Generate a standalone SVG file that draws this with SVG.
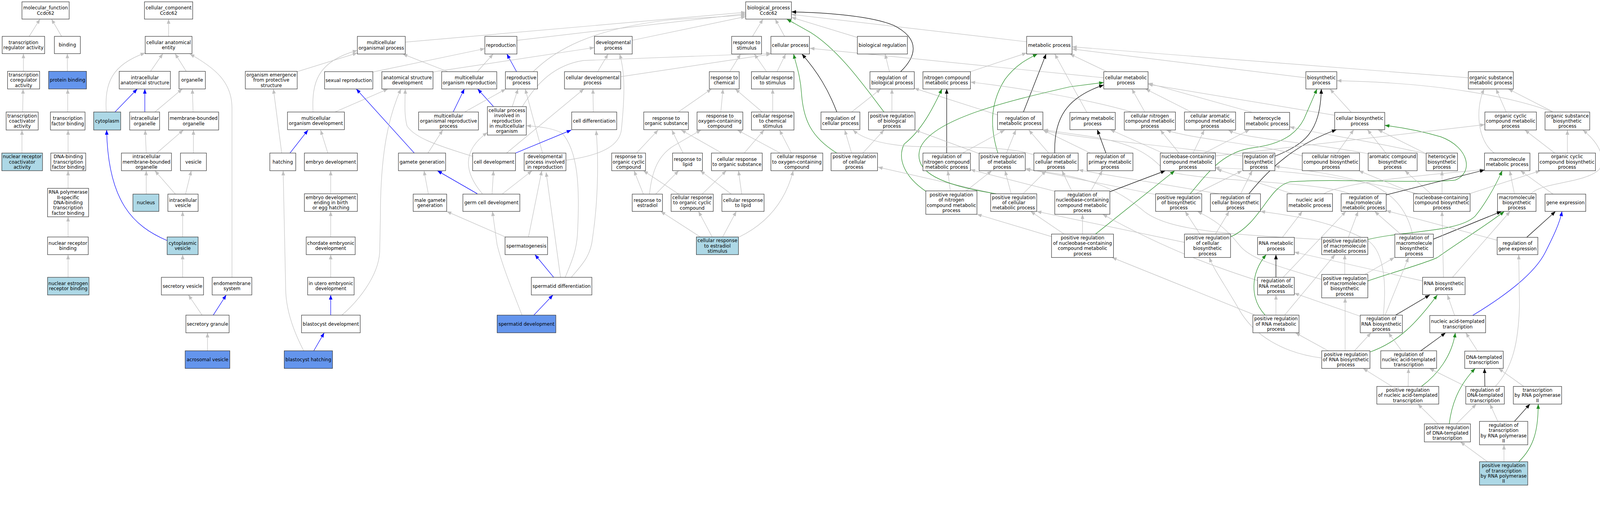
<svg xmlns="http://www.w3.org/2000/svg" width="4456" height="1352" viewBox="0 0 4456 1352">
<style>
rect{fill:#fff;stroke:#333;stroke-width:1.3}
rect.lb{fill:#add8e6}
rect.cb{fill:#6495ed}
text{font-family:"DejaVu Sans","Liberation Sans",sans-serif;font-size:13px;text-anchor:middle;fill:#000}
.e path{fill:none;stroke-width:1.3}
.e .g{stroke:#c0c0c0;marker-end:url(#mg)}
.e .b{stroke:#0000ff;marker-end:url(#mb)}
.e .k{stroke:#000;marker-end:url(#mk)}
.e .n{stroke:#228b22;marker-end:url(#mn)}
</style>
<defs>
<marker id="mg" viewBox="0 0 13 10" refX="13" refY="5" markerWidth="13" markerHeight="10" markerUnits="userSpaceOnUse" orient="auto"><path d="M0 0L13 5L0 10z" fill="#c0c0c0"/></marker>
<marker id="mb" viewBox="0 0 13 10" refX="13" refY="5" markerWidth="13" markerHeight="10" markerUnits="userSpaceOnUse" orient="auto"><path d="M0 0L13 5L0 10z" fill="#0000ff"/></marker>
<marker id="mk" viewBox="0 0 13 10" refX="13" refY="5" markerWidth="13" markerHeight="10" markerUnits="userSpaceOnUse" orient="auto"><path d="M0 0L13 5L0 10z" fill="#000"/></marker>
<marker id="mn" viewBox="0 0 13 10" refX="13" refY="5" markerWidth="13" markerHeight="10" markerUnits="userSpaceOnUse" orient="auto"><path d="M0 0L13 5L0 10z" fill="#228b22"/></marker>
</defs>
<rect x="0" y="0" width="4456" height="1352" style="fill:#fff;stroke:none"/>
<g id="graph" transform="scale(0.9222)">
<g id="edges" class="e">
<path class="g" d="M81 101L111 53"/>
<path class="g" d="M171 101L143 53"/>
<path class="g" d="M468 101L468 53"/>
<path class="g" d="M65 198L65 149"/>
<path class="g" d="M187 198L187 149"/>
<path class="g" d="M418 198L452 149"/>
<path class="g" d="M517 198L486 149"/>
<path class="g" d="M295 311C290 230 310 180 403 147"/>
<path class="b" d="M319 311L381 247"/>
<path class="b" d="M402 311L402 247"/>
<path class="g" d="M430 311L506 247"/>
<path class="g" d="M536 311L534 247"/>
<path class="g" d="M63 311L64 247"/>
<path class="g" d="M188 311L188 247"/>
<path class="g" d="M61 425L61 361"/>
<path class="g" d="M189 425L189 361"/>
<path class="g" d="M406 425L403 361"/>
<path class="g" d="M435 425L509 361"/>
<path class="g" d="M537 425L537 361"/>
<path class="g" d="M189 523L189 474"/>
<path class="g" d="M406 539L406 474"/>
<path class="g" d="M487 539L430 474"/>
<path class="g" d="M515 539L531 474"/>
<path class="g" d="M189 658L189 602"/>
<path class="g" d="M507 658L507 587"/>
<path class="b" d="M464 668C370 628 300 560 296 361"/>
<path class="g" d="M644 770L644 300C644 230 600 190 527 150"/>
<path class="g" d="M189 770L189 707"/>
<path class="g" d="M507 770L507 707"/>
<path class="g" d="M561 875L523 819"/>
<path class="b" d="M592 875L628 819"/>
<path class="g" d="M576 974L576 924"/>
<path class="g" d="M1125 117L2070 34"/>
<path class="g" d="M1435 112L2070 38"/>
<path class="g" d="M1755 112L2070 46"/>
<path class="g" d="M1480 199C1540 140 1640 80 1860 55L2070 42"/>
<path class="g" d="M1035 200L1346 135"/>
<path class="g" d="M825 199L992 147"/>
<path class="g" d="M869 311C865 230 880 170 992 140"/>
<path class="g" d="M1243 199L1118 150"/>
<path class="g" d="M1325 199L1369 150"/>
<path class="b" d="M1434 199L1407 150"/>
<path class="g" d="M1201 200L1650 132"/>
<path class="g" d="M930 311L1077 247"/>
<path class="b" d="M1150 425L989 247"/>
<path class="g" d="M949 875C990 840 1050 770 1054 700L1056 600C1056 420 1080 320 1113 247"/>
<path class="g" d="M1312 434C1200 400 1150 380 1130 350C1122 320 1124 290 1125 247"/>
<path class="b" d="M1258 311L1289 247"/>
<path class="b" d="M1370 296L1326 247"/>
<path class="g" d="M1290 311L1404 247"/>
<path class="g" d="M1422 296L1438 247"/>
<path class="g" d="M1506 425L1458 247"/>
<path class="g" d="M1569 770C1585 730 1600 700 1603 650C1610 520 1605 420 1560 369C1530 355 1500 352 1461 349"/>
<path class="g" d="M1586 770C1610 740 1640 715 1645 660C1660 560 1662 450 1655 362"/>
<path class="g" d="M1556 770L1516 478"/>
<path class="g" d="M1450 296C1490 230 1540 180 1620 168L2140 148"/>
<path class="g" d="M1723 213L2140 150"/>
<path class="g" d="M1659 199L1688 150"/>
<path class="g" d="M1571 445C1680 430 1720 400 1725 360C1735 260 1735 200 1720 150"/>
<path class="g" d="M1647 311L1646 247"/>
<path class="g" d="M1406 425L1621 247"/>
<path class="b" d="M1431 425L1586 361"/>
<path class="g" d="M1339 538C1290 480 1280 420 1353 368"/>
<path class="g" d="M1467 658L1504 474"/>
<path class="g" d="M1395 538L1477 474"/>
<path class="g" d="M1189 538L1177 474"/>
<path class="b" d="M1325 538L1214 474"/>
<path class="g" d="M1366 538L1370 474"/>
<path class="g" d="M1188 425L1229 361"/>
<path class="g" d="M1403 658L1240 587"/>
<path class="g" d="M1449 875C1420 800 1395 740 1380 680L1367 587"/>
<path class="b" d="M1537 770L1485 707"/>
<path class="b" d="M1482 875L1535 819"/>
<path class="g" d="M843 974C815 920 793 860 793 800L786 474"/>
<path class="b" d="M805 425L855 361"/>
<path class="g" d="M782 425L759 247"/>
<path class="g" d="M910 425L890 361"/>
<path class="g" d="M918 538L918 474"/>
<path class="g" d="M918 658L918 587"/>
<path class="g" d="M918 770L918 707"/>
<path class="b" d="M918 875L918 819"/>
<path class="b" d="M871 974L900 924"/>
<path class="g" d="M2089 101L2118 53"/>
<path class="g" d="M2178 101L2152 53"/>
<path class="n" d="M2454 311C2400 240 2330 140 2250 90L2184 53"/>
<path class="k" d="M2323 311C2300 250 2270 200 2226 150"/>
<path class="n" d="M2323 425C2250 380 2230 330 2225 260C2222 210 2210 180 2203 150"/>
<path class="g" d="M2026 199L2056 150"/>
<path class="g" d="M2128 199L2094 150"/>
<path class="g" d="M2157 199L2181 150"/>
<path class="g" d="M1883 311L1975 247"/>
<path class="g" d="M2001 311L2007 247"/>
<path class="g" d="M2116 311L2041 247"/>
<path class="g" d="M2145 311L2145 247"/>
<path class="g" d="M1767 425L1827 361"/>
<path class="g" d="M1896 425L1865 361"/>
<path class="g" d="M2004 425L1891 361"/>
<path class="g" d="M2066 425L2121 361"/>
<path class="g" d="M2166 425L2047 361"/>
<path class="g" d="M2197 425L2164 361"/>
<path class="g" d="M1786 539L1760 474"/>
<path class="g" d="M1820 539L1884 474"/>
<path class="g" d="M1803 539C1810 470 1830 430 1870 405L1946 361"/>
<path class="g" d="M1884 539L1786 474"/>
<path class="g" d="M1949 539L2016 474"/>
<path class="g" d="M2030 539L1944 474"/>
<path class="g" d="M2059 539L2050 474"/>
<path class="g" d="M1944 658L1834 587"/>
<path class="g" d="M1977 658L1939 587"/>
<path class="g" d="M2006 658L2044 587"/>
<path class="g" d="M2052 658C2130 620 2180 560 2202 474"/>
<path class="g" d="M2380 104L2197 48"/>
<path class="g" d="M2850 116L2197 40"/>
<path class="k" d="M2500 199C2540 160 2560 110 2480 70C2420 45 2300 35 2197 33"/>
<path class="g" d="M3064 216L2248 134"/>
<path class="g" d="M2469 199L2457 150"/>
<path class="g" d="M2364 311L2445 247"/>
<path class="g" d="M2476 311L2476 247"/>
<path class="g" d="M2769 319L2538 245"/>
<path class="g" d="M2694 199L2850 147"/>
<path class="n" d="M2770 425C2750 360 2745 290 2790 220C2820 180 2850 165 2880 150"/>
<path class="k" d="M2841 311L2904 150"/>
<path class="g" d="M3017 312L2928 150"/>
<path class="g" d="M3073 199L2970 150"/>
<path class="g" d="M3625 216L2976 136"/>
<path class="g" d="M4076 216L2976 130"/>
<path class="k" d="M2628 425L2628 247"/>
<path class="n" d="M2570 531C2510 490 2490 440 2510 400C2560 360 2590 300 2615 247"/>
<path class="g" d="M3142 311C3000 270 2800 240 2694 228"/>
<path class="g" d="M2364 425L2345 361"/>
<path class="g" d="M2870 430C2800 405 2650 408 2550 407C2470 405 2400 390 2368 361"/>
<path class="g" d="M2395 425L2454 361"/>
<path class="g" d="M2725 429L2540 361"/>
<path class="g" d="M2672 425L2789 361"/>
<path class="g" d="M2794 425L2820 361"/>
<path class="g" d="M2911 425L2856 361"/>
<path class="g" d="M3027 425L2895 361"/>
<path class="g" d="M3450 433C3200 400 3000 385 2897 362"/>
<path class="g" d="M3746 538C3650 500 3300 505 3230 470C3190 430 3150 395 3000 375L2896 360"/>
<path class="g" d="M2763 538L2437 464"/>
<path class="g" d="M2638 530L2631 474"/>
<path class="g" d="M2682 530L2753 474"/>
<path class="g" d="M2807 538L2790 474"/>
<path class="g" d="M2840 538L2904 474"/>
<path class="g" d="M2928 531L2694 471"/>
<path class="g" d="M3669 665C3400 650 3250 640 3180 590C3120 540 3050 490 2847 471"/>
<path class="g" d="M2975 530L2948 474"/>
<path class="g" d="M3383 538L2994 472"/>
<path class="g" d="M3208 540L2847 468"/>
<path class="g" d="M2919 657L2712 595"/>
<path class="g" d="M2954 650L2861 587"/>
<path class="g" d="M3288 673L2878 587"/>
<path class="n" d="M2765 538C2620 515 2530 480 2555 410C2590 330 2800 280 2970 241L3064 229"/>
<path class="k" d="M2928 425C2925 330 2960 270 3064 236"/>
<path class="g" d="M3178 311L3142 247"/>
<path class="g" d="M3307 311L3180 247"/>
<path class="g" d="M3477 312L3187 231"/>
<path class="g" d="M3705 320L3187 234"/>
<path class="n" d="M3304 538C3360 470 3400 420 3480 410C3560 400 3600 370 3620 330L3656 247"/>
<path class="k" d="M3539 434C3620 400 3665 370 3668 247"/>
<path class="g" d="M3751 312L3692 247"/>
<path class="g" d="M4310 311C4200 270 4000 230 3711 224"/>
<path class="k" d="M3070 425L3046 360"/>
<path class="g" d="M3273 425L3221 361"/>
<path class="g" d="M3312 425L3343 361"/>
<path class="g" d="M3343 425L3469 360"/>
<path class="g" d="M3228 425L3082 360"/>
<path class="g" d="M3615 433C3500 400 3300 385 3238 361"/>
<path class="g" d="M3799 427C3600 390 3450 385 3410 361"/>
<path class="g" d="M3959 427C3800 390 3650 370 3580 352"/>
<path class="k" d="M3082 532L3235 474"/>
<path class="n" d="M3041 650L3261 474"/>
<path class="g" d="M3027 532L3060 474"/>
<path class="g" d="M3005 650L3005 595"/>
<path class="g" d="M3491 779C3400 750 3250 700 3061 595"/>
<path class="g" d="M3590 539L3378 470"/>
<path class="g" d="M3936 538C3700 480 3500 470 3372 466"/>
<path class="g" d="M3319 538L3448 474"/>
<path class="g" d="M3444 538L3476 474"/>
<path class="g" d="M3921 650C3910 600 3880 540 3800 510C3700 480 3600 470 3539 462"/>
<path class="k" d="M3467 538C3530 460 3600 400 3710 360"/>
<path class="g" d="M3331 650L3290 587"/>
<path class="g" d="M3374 650L3412 587"/>
<path class="g" d="M3669 776C3550 740 3470 720 3440 680C3400 630 3370 610 3324 587"/>
<path class="g" d="M3840 875C3850 780 3840 700 3800 670C3700 615 3600 600 3499 587"/>
<path class="g" d="M3560 659L3615 587"/>
<path class="g" d="M3675 538C3720 510 3900 490 4121 471"/>
<path class="n" d="M3416 658C3500 620 3520 520 3580 505C3700 495 3950 510 4040 500C4090 480 4080 410 4000 380C3950 365 3900 355 3844 348"/>
<path class="g" d="M3712 425L3758 360"/>
<path class="g" d="M3847 425L3796 360"/>
<path class="g" d="M3959 427L3825 360"/>
<path class="g" d="M4148 425C4100 390 4095 300 4120 247"/>
<path class="g" d="M4181 311L4153 247"/>
<path class="g" d="M4310 310L4187 247"/>
<path class="g" d="M3374 433L4122 346"/>
<path class="g" d="M4316 425L4233 361"/>
<path class="g" d="M4351 425L4351 361"/>
<path class="g" d="M4250 538C4280 505 4400 510 4440 470C4460 430 4430 390 4394 361"/>
<path class="g" d="M4079 538L4276 474"/>
<path class="g" d="M4003 538L4003 474"/>
<path class="g" d="M3972 538L3900 474"/>
<path class="g" d="M3927 538L3772 474"/>
<path class="k" d="M3848 541L4121 472"/>
<path class="n" d="M3797 665C3900 640 4050 645 4095 600C4120 570 4150 520 4170 474"/>
<path class="g" d="M4204 538L4191 474"/>
<path class="g" d="M4311 539L4221 474"/>
<path class="k" d="M3979 664L4168 587"/>
<path class="n" d="M3797 780C3870 755 3960 730 3990 715C4060 665 4120 630 4176 587"/>
<path class="g" d="M4032 770L4192 587"/>
<path class="k" d="M4238 659L4318 587"/>
<path class="b" d="M4088 876C4180 820 4260 760 4290 700C4310 660 4330 620 4336 587"/>
<path class="g" d="M3743 659L3770 587"/>
<path class="g" d="M3888 650L3816 587"/>
<path class="g" d="M4156 667L3848 585"/>
<path class="g" d="M3562 770L3736 587"/>
<path class="g" d="M4151 1073C4200 1020 4215 950 4218 850L4216 707"/>
<path class="g" d="M3566 875L3706 707"/>
<path class="g" d="M3484 875L3087 715"/>
<path class="g" d="M3669 994C3560 980 3480 930 3440 860C3400 790 3370 750 3357 715"/>
<path class="g" d="M3687 974L3596 924"/>
<path class="k" d="M3542 770L3542 707"/>
<path class="n" d="M3512 875C3470 830 3470 760 3515 707"/>
<path class="g" d="M3542 875L3542 819"/>
<path class="g" d="M3949 780L3593 700"/>
<path class="g" d="M3776 878L3593 814"/>
<path class="g" d="M3733 762L3733 707"/>
<path class="g" d="M3845 875L3910 715"/>
<path class="g" d="M3789 762L3871 715"/>
<path class="k" d="M3874 875L3969 819"/>
<path class="n" d="M3804 977C3880 950 3930 900 3990 819"/>
<path class="g" d="M4038 876L4018 819"/>
<path class="g" d="M4007 770L4003 587"/>
<path class="g" d="M3864 1073L3784 1023"/>
<path class="g" d="M3760 974L3806 924"/>
<path class="g" d="M3891 974L3854 924"/>
<path class="g" d="M3734 974L3734 827"/>
<path class="k" d="M3944 974L4013 924"/>
<path class="n" d="M3946 1073C3990 1040 4030 990 4040 924"/>
<path class="g" d="M4102 975L4069 924"/>
<path class="g" d="M3909 1073L3910 1023"/>
<path class="g" d="M4069 1073L3968 1023"/>
<path class="k" d="M4122 1073L4121 1023"/>
<path class="n" d="M4023 1177C4030 1120 4050 1070 4095 1023"/>
<path class="g" d="M4230 1073L4160 1023"/>
<path class="g" d="M3992 1177L3936 1122"/>
<path class="g" d="M4043 1177L4098 1122"/>
<path class="g" d="M4158 1170L4136 1122"/>
<path class="k" d="M4204 1170L4247 1122"/>
<path class="n" d="M4216 1282C4260 1240 4270 1190 4270 1122"/>
<path class="g" d="M4129 1282L4054 1227"/>
<path class="g" d="M4175 1282L4175 1235"/>
</g>
<g id="mf"><rect x="61" y="5" width="131" height="48"/><text x="126.5" y="26.2">molecular_function<tspan x="126.5" dy="14.5">Ccdc62</tspan></text></g>
<g id="cc"><rect x="401" y="5" width="134" height="48"/><text x="468" y="26.2">cellular_component<tspan x="468" dy="14.5">Ccdc62</tspan></text></g>
<g id="tra"><rect x="6" y="101" width="118" height="48"/><text x="65" y="122.2">transcription<tspan x="65" dy="14.5">regulator activity</tspan></text></g>
<g id="binding"><rect x="151" y="101" width="72" height="48"/><text x="187" y="129.5">binding</text></g>
<g id="cae"><rect x="403" y="101" width="130" height="48"/><text x="468" y="122.2">cellular anatomical<tspan x="468" dy="14.5">entity</tspan></text></g>
<g id="tcoreg"><rect x="21" y="198" width="89" height="49"/><text x="65.5" y="212.5">transcription<tspan x="65.5" dy="14.5">coregulator</tspan><tspan x="65.5" dy="14.5">activity</tspan></text></g>
<g id="pb"><rect class="cb" x="135" y="198" width="105" height="49"/><text x="187.5" y="227">protein binding</text></g>
<g id="ias"><rect x="331" y="198" width="142" height="49"/><text x="402" y="219.7">intracellular<tspan x="402" dy="14.5">anatomical structure</tspan></text></g>
<g id="organelle"><rect x="497" y="198" width="73" height="49"/><text x="533.5" y="227">organelle</text></g>
<g id="oe"><rect x="681" y="198" width="144" height="49"/><text x="753" y="212.5">organism emergence<tspan x="753" dy="14.5">from protective</tspan><tspan x="753" dy="14.5">structure</tspan></text></g>
<g id="tcoact"><rect x="17" y="311" width="89" height="50"/><text x="61.5" y="326">transcription<tspan x="61.5" dy="14.5">coactivator</tspan><tspan x="61.5" dy="14.5">activity</tspan></text></g>
<g id="tfb"><rect x="140" y="311" width="96" height="50"/><text x="188" y="333.2">transcription<tspan x="188" dy="14.5">factor binding</tspan></text></g>
<g id="cytoplasm"><rect class="lb" x="260" y="311" width="75" height="50"/><text x="297.5" y="340.5">cytoplasm</text></g>
<g id="io"><rect x="360" y="311" width="83" height="50"/><text x="401.5" y="333.2">intracellular<tspan x="401.5" dy="14.5">organelle</tspan></text></g>
<g id="mbo"><rect x="468" y="311" width="139" height="50"/><text x="537.5" y="333.2">membrane-bounded<tspan x="537.5" dy="14.5">organelle</tspan></text></g>
<g id="nrca"><rect class="lb" x="5" y="425" width="113" height="49"/><text x="61.5" y="439.5">nuclear receptor<tspan x="61.5" dy="14.5">coactivator</tspan><tspan x="61.5" dy="14.5">activity</tspan></text></g>
<g id="dbtfb"><rect x="141" y="425" width="97" height="49"/><text x="189.5" y="439.5">DNA-binding<tspan x="189.5" dy="14.5">transcription</tspan><tspan x="189.5" dy="14.5">factor binding</tspan></text></g>
<g id="imbo"><rect x="337" y="425" width="139" height="49"/><text x="406.5" y="439.5">intracellular<tspan x="406.5" dy="14.5">membrane-bounded</tspan><tspan x="406.5" dy="14.5">organelle</tspan></text></g>
<g id="vesicle"><rect x="501" y="425" width="72" height="49"/><text x="537" y="454">vesicle</text></g>
<g id="rnap2"><rect x="132" y="523" width="114" height="79"/><text x="189" y="538">RNA polymerase<tspan x="189" dy="14.5">II-specific</tspan><tspan x="189" dy="14.5">DNA-binding</tspan><tspan x="189" dy="14.5">transcription</tspan><tspan x="189" dy="14.5">factor binding</tspan></text></g>
<g id="nucleus"><rect class="lb" x="369" y="539" width="72" height="48"/><text x="405" y="567.5">nucleus</text></g>
<g id="iv"><rect x="466" y="539" width="84" height="48"/><text x="508" y="560.2">intracellular<tspan x="508" dy="14.5">vesicle</tspan></text></g>
<g id="nrb"><rect x="132" y="658" width="113" height="49"/><text x="188.5" y="679.7">nuclear receptor<tspan x="188.5" dy="14.5">binding</tspan></text></g>
<g id="cv"><rect class="lb" x="464" y="658" width="86" height="49"/><text x="507" y="679.7">cytoplasmic<tspan x="507" dy="14.5">vesicle</tspan></text></g>
<g id="nerb"><rect class="lb" x="132" y="770" width="115" height="49"/><text x="189.5" y="791.7">nuclear estrogen<tspan x="189.5" dy="14.5">receptor binding</tspan></text></g>
<g id="sv"><rect x="448" y="770" width="117" height="49"/><text x="506.5" y="799">secretory vesicle</text></g>
<g id="es"><rect x="589" y="770" width="110" height="49"/><text x="644" y="791.7">endomembrane<tspan x="644" dy="14.5">system</tspan></text></g>
<g id="sg"><rect x="516" y="875" width="120" height="49"/><text x="576" y="904">secretory granule</text></g>
<g id="av"><rect class="cb" x="514" y="974" width="124" height="49"/><text x="576" y="1003">acrosomal vesicle</text></g>
<g id="mop"><rect x="992" y="101" width="133" height="49"/><text x="1058.5" y="122.7">multicellular<tspan x="1058.5" dy="14.5">organismal process</tspan></text></g>
<g id="repro"><rect x="1346" y="101" width="89" height="49"/><text x="1390.5" y="130">reproduction</text></g>
<g id="sexrep"><rect x="901" y="199" width="134" height="48"/><text x="968" y="227.5">sexual reproduction</text></g>
<g id="asd"><rect x="1060" y="199" width="142" height="48"/><text x="1131" y="220.2">anatomical structure<tspan x="1131" dy="14.5">development</tspan></text></g>
<g id="mor"><rect x="1226" y="199" width="153" height="48"/><text x="1302.5" y="220.2">multicellular<tspan x="1302.5" dy="14.5">organism reproduction</tspan></text></g>
<g id="rp"><rect x="1403" y="199" width="89" height="48"/><text x="1447.5" y="220.2">reproductive<tspan x="1447.5" dy="14.5">process</tspan></text></g>
<g id="mod"><rect x="798" y="311" width="158" height="49"/><text x="877" y="332.7">multicellular<tspan x="877" dy="14.5">organism development</tspan></text></g>
<g id="morp"><rect x="1162" y="311" width="166" height="50"/><text x="1245" y="326">multicellular<tspan x="1245" dy="14.5">organismal reproductive</tspan><tspan x="1245" dy="14.5">process</tspan></text></g>
<g id="cpir"><rect x="1353" y="296" width="108" height="79"/><text x="1407" y="311">cellular process<tspan x="1407" dy="14.5">involved in</tspan><tspan x="1407" dy="14.5">reproduction</tspan><tspan x="1407" dy="14.5">in multicellular</tspan><tspan x="1407" dy="14.5">organism</tspan></text></g>
<g id="hatching"><rect x="749" y="425" width="72" height="49"/><text x="785" y="454">hatching</text></g>
<g id="ed"><rect x="845" y="425" width="147" height="49"/><text x="918.5" y="454">embryo development</text></g>
<g id="gg"><rect x="1106" y="425" width="131" height="49"/><text x="1171.5" y="454">gamete generation</text></g>
<g id="celldev"><rect x="1312" y="425" width="119" height="49"/><text x="1371.5" y="454">cell development</text></g>
<g id="dpir"><rect x="1455" y="425" width="116" height="49"/><text x="1513" y="439.5">developmental<tspan x="1513" dy="14.5">process involved</tspan><tspan x="1513" dy="14.5">in reproduction</tspan></text></g>
<g id="edeb"><rect x="845" y="538" width="147" height="49"/><text x="918.5" y="552.5">embryo development<tspan x="918.5" dy="14.5">ending in birth</tspan><tspan x="918.5" dy="14.5">or egg hatching</tspan></text></g>
<g id="mgg"><rect x="1147" y="539" width="93" height="48"/><text x="1193.5" y="560.2">male gamete<tspan x="1193.5" dy="14.5">generation</tspan></text></g>
<g id="gcd"><rect x="1285" y="539" width="158" height="48"/><text x="1364" y="567.5">germ cell development</text></g>
<g id="ced"><rect x="850" y="658" width="136" height="49"/><text x="918" y="679.7">chordate embryonic<tspan x="918" dy="14.5">development</tspan></text></g>
<g id="spermatogenesis"><rect x="1402" y="658" width="118" height="49"/><text x="1461" y="687">spermatogenesis</text></g>
<g id="iued"><rect x="854" y="770" width="129" height="49"/><text x="918.5" y="791.7">in utero embryonic<tspan x="918.5" dy="14.5">development</tspan></text></g>
<g id="sdiff"><rect x="1475" y="770" width="168" height="49"/><text x="1559" y="799">spermatid differentiation</text></g>
<g id="bd"><rect x="837" y="875" width="163" height="49"/><text x="918.5" y="904">blastocyst development</text></g>
<g id="sdev"><rect class="cb" x="1380" y="875" width="163" height="49"/><text x="1461.5" y="904">spermatid development</text></g>
<g id="bh"><rect class="cb" x="789" y="974" width="134" height="49"/><text x="856" y="1003">blastocyst hatching</text></g>
<g id="bp"><rect x="2070" y="5" width="127" height="48"/><text x="2133.5" y="26.2">biological_process<tspan x="2133.5" dy="14.5">Ccdc62</tspan></text></g>
<g id="devp"><rect x="1650" y="101" width="105" height="49"/><text x="1702.5" y="122.7">developmental<tspan x="1702.5" dy="14.5">process</tspan></text></g>
<g id="rts"><rect x="2031" y="101" width="83" height="49"/><text x="2072.5" y="122.7">response to<tspan x="2072.5" dy="14.5">stimulus</tspan></text></g>
<g id="cp"><rect x="2140" y="101" width="107" height="49"/><text x="2193.5" y="130">cellular process</text></g>
<g id="cdp"><rect x="1567" y="199" width="156" height="48"/><text x="1645" y="220.2">cellular developmental<tspan x="1645" dy="14.5">process</tspan></text></g>
<g id="rtc"><rect x="1969" y="199" width="83" height="48"/><text x="2010.5" y="220.2">response to<tspan x="2010.5" dy="14.5">chemical</tspan></text></g>
<g id="crts"><rect x="2086" y="199" width="118" height="48"/><text x="2145" y="220.2">cellular response<tspan x="2145" dy="14.5">to stimulus</tspan></text></g>
<g id="cdiff"><rect x="1587" y="311" width="125" height="49"/><text x="1649.5" y="340">cell differentiation</text></g>
<g id="rtos"><rect x="1787" y="311" width="124" height="49"/><text x="1849" y="332.7">response to<tspan x="1849" dy="14.5">organic substance</tspan></text></g>
<g id="rtocc"><rect x="1935" y="311" width="127" height="50"/><text x="1998.5" y="326">response to<tspan x="1998.5" dy="14.5">oxygen-containing</tspan><tspan x="1998.5" dy="14.5">compound</tspan></text></g>
<g id="crtcs"><rect x="2086" y="311" width="118" height="50"/><text x="2145" y="326">cellular response<tspan x="2145" dy="14.5">to chemical</tspan><tspan x="2145" dy="14.5">stimulus</tspan></text></g>
<g id="rtoccomp"><rect x="1698" y="425" width="94" height="49"/><text x="1745" y="439.5">response to<tspan x="1745" dy="14.5">organic cyclic</tspan><tspan x="1745" dy="14.5">compound</tspan></text></g>
<g id="rtl"><rect x="1867" y="425" width="83" height="49"/><text x="1908.5" y="446.7">response to<tspan x="1908.5" dy="14.5">lipid</tspan></text></g>
<g id="crtos"><rect x="1975" y="425" width="141" height="49"/><text x="2045.5" y="446.7">cellular response<tspan x="2045.5" dy="14.5">to organic substance</tspan></text></g>
<g id="crtocc"><rect x="2140" y="425" width="144" height="49"/><text x="2212" y="439.5">cellular response<tspan x="2212" dy="14.5">to oxygen-containing</tspan><tspan x="2212" dy="14.5">compound</tspan></text></g>
<g id="rte"><rect x="1755" y="539" width="84" height="48"/><text x="1797" y="560.2">response to<tspan x="1797" dy="14.5">estradiol</tspan></text></g>
<g id="crtoccomp"><rect x="1863" y="539" width="117" height="48"/><text x="1921.5" y="553">cellular response<tspan x="1921.5" dy="14.5">to organic cyclic</tspan><tspan x="1921.5" dy="14.5">compound</tspan></text></g>
<g id="crtl"><rect x="2004" y="539" width="117" height="48"/><text x="2062.5" y="560.2">cellular response<tspan x="2062.5" dy="14.5">to lipid</tspan></text></g>
<g id="crtes"><rect class="lb" x="1933" y="658" width="117" height="49"/><text x="1991.5" y="672.5">cellular response<tspan x="1991.5" dy="14.5">to estradiol</tspan><tspan x="1991.5" dy="14.5">stimulus</tspan></text></g>
<g id="br"><rect x="2380" y="101" width="139" height="49"/><text x="2449.5" y="130">biological regulation</text></g>
<g id="mp"><rect x="2850" y="101" width="126" height="49"/><text x="2913" y="130">metabolic process</text></g>
<g id="rbp"><rect x="2415" y="199" width="123" height="48"/><text x="2476.5" y="220.2">regulation of<tspan x="2476.5" dy="14.5">biological process</tspan></text></g>
<g id="ncmp"><rect x="2562" y="199" width="132" height="48"/><text x="2628" y="220.2">nitrogen compound<tspan x="2628" dy="14.5">metabolic process</tspan></text></g>
<g id="rcp"><rect x="2279" y="311" width="108" height="49"/><text x="2333" y="332.7">regulation of<tspan x="2333" dy="14.5">cellular process</tspan></text></g>
<g id="prbp"><rect x="2411" y="311" width="129" height="50"/><text x="2475.5" y="326">positive regulation<tspan x="2475.5" dy="14.5">of biological</tspan><tspan x="2475.5" dy="14.5">process</tspan></text></g>
<g id="rmp"><rect x="2769" y="311" width="126" height="49"/><text x="2832" y="332.7">regulation of<tspan x="2832" dy="14.5">metabolic process</tspan></text></g>
<g id="prcp"><rect x="2307" y="425" width="129" height="49"/><text x="2371.5" y="439.5">positive regulation<tspan x="2371.5" dy="14.5">of cellular</tspan><tspan x="2371.5" dy="14.5">process</tspan></text></g>
<g id="rncmp"><rect x="2562" y="425" width="132" height="49"/><text x="2628" y="439.5">regulation of<tspan x="2628" dy="14.5">nitrogen compound</tspan><tspan x="2628" dy="14.5">metabolic process</tspan></text></g>
<g id="prmp"><rect x="2718" y="425" width="128" height="49"/><text x="2782" y="439.5">positive regulation<tspan x="2782" dy="14.5">of metabolic</tspan><tspan x="2782" dy="14.5">process</tspan></text></g>
<g id="rcmp"><rect x="2870" y="425" width="123" height="49"/><text x="2931.5" y="439.5">regulation of<tspan x="2931.5" dy="14.5">cellular metabolic</tspan><tspan x="2931.5" dy="14.5">process</tspan></text></g>
<g id="prncmp"><rect x="2570" y="530" width="142" height="65"/><text x="2641" y="545.2">positive regulation<tspan x="2641" dy="14.5">of nitrogen</tspan><tspan x="2641" dy="14.5">compound metabolic</tspan><tspan x="2641" dy="14.5">process</tspan></text></g>
<g id="prcmp"><rect x="2750" y="538" width="128" height="49"/><text x="2814" y="552.5">positive regulation<tspan x="2814" dy="14.5">of cellular</tspan><tspan x="2814" dy="14.5">metabolic process</tspan></text></g>
<g id="rnbcmp"><rect x="2928" y="530" width="153" height="65"/><text x="3004.5" y="545.2">regulation of<tspan x="3004.5" dy="14.5">nucleobase-containing</tspan><tspan x="3004.5" dy="14.5">compound metabolic</tspan><tspan x="3004.5" dy="14.5">process</tspan></text></g>
<g id="prnbcmp"><rect x="2919" y="650" width="172" height="65"/><text x="3005" y="665.2">positive regulation<tspan x="3005" dy="14.5">of nucleobase-containing</tspan><tspan x="3005" dy="14.5">compound metabolic</tspan><tspan x="3005" dy="14.5">process</tspan></text></g>
<g id="cmp"><rect x="3064" y="199" width="123" height="48"/><text x="3125.5" y="220.2">cellular metabolic<tspan x="3125.5" dy="14.5">process</tspan></text></g>
<g id="bsp"><rect x="3625" y="199" width="86" height="48"/><text x="3668" y="220.2">biosynthetic<tspan x="3668" dy="14.5">process</tspan></text></g>
<g id="pmp"><rect x="2970" y="312" width="126" height="48"/><text x="3033" y="333.2">primary metabolic<tspan x="3033" dy="14.5">process</tspan></text></g>
<g id="cncmp"><rect x="3121" y="311" width="142" height="50"/><text x="3192" y="326">cellular nitrogen<tspan x="3192" dy="14.5">compound metabolic</tspan><tspan x="3192" dy="14.5">process</tspan></text></g>
<g id="cacmp"><rect x="3288" y="311" width="142" height="50"/><text x="3359" y="326">cellular aromatic<tspan x="3359" dy="14.5">compound metabolic</tspan><tspan x="3359" dy="14.5">process</tspan></text></g>
<g id="hmp"><rect x="3455" y="312" width="125" height="48"/><text x="3517.5" y="333.2">heterocycle<tspan x="3517.5" dy="14.5">metabolic process</tspan></text></g>
<g id="cbp"><rect x="3705" y="312" width="139" height="48"/><text x="3774.5" y="333.2">cellular biosynthetic<tspan x="3774.5" dy="14.5">process</tspan></text></g>
<g id="rpmp"><rect x="3018" y="425" width="127" height="49"/><text x="3081.5" y="439.5">regulation of<tspan x="3081.5" dy="14.5">primary metabolic</tspan><tspan x="3081.5" dy="14.5">process</tspan></text></g>
<g id="nbcmp"><rect x="3221" y="425" width="153" height="49"/><text x="3297.5" y="439.5">nucleobase-containing<tspan x="3297.5" dy="14.5">compound metabolic</tspan><tspan x="3297.5" dy="14.5">process</tspan></text></g>
<g id="rbsp"><rect x="3450" y="425" width="89" height="49"/><text x="3494.5" y="439.5">regulation of<tspan x="3494.5" dy="14.5">biosynthetic</tspan><tspan x="3494.5" dy="14.5">process</tspan></text></g>
<g id="cncbp"><rect x="3615" y="425" width="159" height="49"/><text x="3694.5" y="439.5">cellular nitrogen<tspan x="3694.5" dy="14.5">compound biosynthetic</tspan><tspan x="3694.5" dy="14.5">process</tspan></text></g>
<g id="prbsp"><rect x="3208" y="538" width="128" height="49"/><text x="3272" y="552.5">positive regulation<tspan x="3272" dy="14.5">of biosynthetic</tspan><tspan x="3272" dy="14.5">process</tspan></text></g>
<g id="rcbp"><rect x="3360" y="538" width="139" height="49"/><text x="3429.5" y="552.5">regulation of<tspan x="3429.5" dy="14.5">cellular biosynthetic</tspan><tspan x="3429.5" dy="14.5">process</tspan></text></g>
<g id="namp"><rect x="3573" y="538" width="126" height="49"/><text x="3636" y="559.7">nucleic acid<tspan x="3636" dy="14.5">metabolic process</tspan></text></g>
<g id="prcbp"><rect x="3288" y="650" width="128" height="65"/><text x="3352" y="665.2">positive regulation<tspan x="3352" dy="14.5">of cellular</tspan><tspan x="3352" dy="14.5">biosynthetic</tspan><tspan x="3352" dy="14.5">process</tspan></text></g>
<g id="rnamp"><rect x="3491" y="659" width="102" height="48"/><text x="3542" y="680.2">RNA metabolic<tspan x="3542" dy="14.5">process</tspan></text></g>
<g id="prmmp"><rect x="3669" y="659" width="128" height="48"/><text x="3733" y="673">positive regulation<tspan x="3733" dy="14.5">of macromolecule</tspan><tspan x="3733" dy="14.5">metabolic process</tspan></text></g>
<g id="osmp"><rect x="4076" y="199" width="125" height="48"/><text x="4138.5" y="220.2">organic substance<tspan x="4138.5" dy="14.5">metabolic process</tspan></text></g>
<g id="occmp"><rect x="4122" y="311" width="143" height="50"/><text x="4193.5" y="326">organic cyclic<tspan x="4193.5" dy="14.5">compound metabolic</tspan><tspan x="4193.5" dy="14.5">process</tspan></text></g>
<g id="osbp"><rect x="4289" y="311" width="124" height="50"/><text x="4351" y="326">organic substance<tspan x="4351" dy="14.5">biosynthetic</tspan><tspan x="4351" dy="14.5">process</tspan></text></g>
<g id="acbp"><rect x="3798" y="425" width="136" height="49"/><text x="3866" y="439.5">aromatic compound<tspan x="3866" dy="14.5">biosynthetic</tspan><tspan x="3866" dy="14.5">process</tspan></text></g>
<g id="hbp"><rect x="3959" y="425" width="87" height="49"/><text x="4002.5" y="439.5">heterocycle<tspan x="4002.5" dy="14.5">biosynthetic</tspan><tspan x="4002.5" dy="14.5">process</tspan></text></g>
<g id="mmp"><rect x="4121" y="425" width="126" height="49"/><text x="4184" y="446.7">macromolecule<tspan x="4184" dy="14.5">metabolic process</tspan></text></g>
<g id="occbp"><rect x="4271" y="425" width="158" height="49"/><text x="4350" y="439.5">organic cyclic<tspan x="4350" dy="14.5">compound biosynthetic</tspan><tspan x="4350" dy="14.5">process</tspan></text></g>
<g id="rmmp"><rect x="3723" y="538" width="125" height="49"/><text x="3785.5" y="552.5">regulation of<tspan x="3785.5" dy="14.5">macromolecule</tspan><tspan x="3785.5" dy="14.5">metabolic process</tspan></text></g>
<g id="nbcbp"><rect x="3924" y="538" width="157" height="49"/><text x="4002.5" y="552.5">nucleobase-containing<tspan x="4002.5" dy="14.5">compound biosynthetic</tspan><tspan x="4002.5" dy="14.5">process</tspan></text></g>
<g id="mbp"><rect x="4157" y="538" width="107" height="49"/><text x="4210.5" y="552.5">macromolecule<tspan x="4210.5" dy="14.5">biosynthetic</tspan><tspan x="4210.5" dy="14.5">process</tspan></text></g>
<g id="ge"><rect x="4289" y="539" width="113" height="48"/><text x="4345.5" y="567.5">gene expression</text></g>
<g id="prmbp"><rect x="3669" y="762" width="128" height="65"/><text x="3733" y="777.2">positive regulation<tspan x="3733" dy="14.5">of macromolecule</tspan><tspan x="3733" dy="14.5">biosynthetic</tspan><tspan x="3733" dy="14.5">process</tspan></text></g>
<g id="rmbp"><rect x="3872" y="650" width="107" height="65"/><text x="3925.5" y="665.2">regulation of<tspan x="3925.5" dy="14.5">macromolecule</tspan><tspan x="3925.5" dy="14.5">biosynthetic</tspan><tspan x="3925.5" dy="14.5">process</tspan></text></g>
<g id="rge"><rect x="4156" y="659" width="113" height="48"/><text x="4212.5" y="680.2">regulation of<tspan x="4212.5" dy="14.5">gene expression</tspan></text></g>
<g id="rrnamp"><rect x="3491" y="770" width="102" height="49"/><text x="3542" y="784.5">regulation of<tspan x="3542" dy="14.5">RNA metabolic</tspan><tspan x="3542" dy="14.5">process</tspan></text></g>
<g id="prrnamp"><rect x="3478" y="875" width="128" height="49"/><text x="3542" y="889.5">positive regulation<tspan x="3542" dy="14.5">of RNA metabolic</tspan><tspan x="3542" dy="14.5">process</tspan></text></g>
<g id="prrnabp"><rect x="3669" y="974" width="134" height="49"/><text x="3736" y="988.5">positive regulation<tspan x="3736" dy="14.5">of RNA biosynthetic</tspan><tspan x="3736" dy="14.5">process</tspan></text></g>
<g id="rnabp"><rect x="3949" y="770" width="118" height="48"/><text x="4008" y="791.2">RNA biosynthetic<tspan x="4008" dy="14.5">process</tspan></text></g>
<g id="rrnabp"><rect x="3776" y="875" width="117" height="49"/><text x="3834.5" y="889.5">regulation of<tspan x="3834.5" dy="14.5">RNA biosynthetic</tspan><tspan x="3834.5" dy="14.5">process</tspan></text></g>
<g id="natt"><rect x="3969" y="876" width="155" height="48"/><text x="4046.5" y="897.2">nucleic acid-templated<tspan x="4046.5" dy="14.5">transcription</tspan></text></g>
<g id="rnatt"><rect x="3833" y="974" width="155" height="49"/><text x="3910.5" y="988.5">regulation of<tspan x="3910.5" dy="14.5">nucleic acid-templated</tspan><tspan x="3910.5" dy="14.5">transcription</tspan></text></g>
<g id="dtt"><rect x="4066" y="975" width="107" height="48"/><text x="4119.5" y="996.2">DNA-templated<tspan x="4119.5" dy="14.5">transcription</tspan></text></g>
<g id="prnatt"><rect x="3822" y="1073" width="172" height="49"/><text x="3908" y="1087.5">positive regulation<tspan x="3908" dy="14.5">of nucleic acid-templated</tspan><tspan x="3908" dy="14.5">transcription</tspan></text></g>
<g id="rdtt"><rect x="4069" y="1073" width="107" height="49"/><text x="4122.5" y="1087.5">regulation of<tspan x="4122.5" dy="14.5">DNA-templated</tspan><tspan x="4122.5" dy="14.5">transcription</tspan></text></g>
<g id="trp2"><rect x="4201" y="1073" width="134" height="49"/><text x="4268" y="1087.5">transcription<tspan x="4268" dy="14.5">by RNA polymerase</tspan><tspan x="4268" dy="14.5">II</tspan></text></g>
<g id="prdtt"><rect x="3954" y="1177" width="128" height="50"/><text x="4018" y="1192">positive regulation<tspan x="4018" dy="14.5">of DNA-templated</tspan><tspan x="4018" dy="14.5">transcription</tspan></text></g>
<g id="rtrp2"><rect x="4107" y="1170" width="134" height="65"/><text x="4174" y="1185.2">regulation of<tspan x="4174" dy="14.5">transcription</tspan><tspan x="4174" dy="14.5">by RNA polymerase</tspan><tspan x="4174" dy="14.5">II</tspan></text></g>
<g id="prtrp2"><rect class="lb" x="4107" y="1282" width="134" height="65"/><text x="4174" y="1297.2">positive regulation<tspan x="4174" dy="14.5">of transcription</tspan><tspan x="4174" dy="14.5">by RNA polymerase</tspan><tspan x="4174" dy="14.5">II</tspan></text></g>
</g>
</svg>
